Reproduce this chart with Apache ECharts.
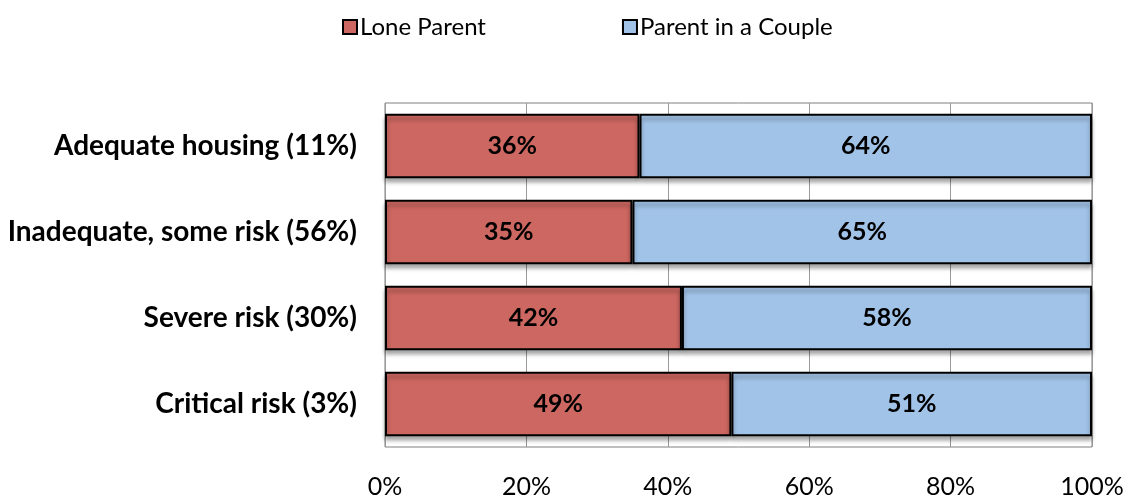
<!DOCTYPE html>
<html>
<head>
<meta charset="utf-8">
<script src="https://cdn.jsdelivr.net/npm/echarts@6/dist/echarts.min.js"></script>
<style>
  html, body { margin: 0; padding: 0; background: #fff; }
  #chart { width: 1130px; height: 500px; }
</style>
</head>
<body>
<div id="chart"></div>
<script>
const categories = ['Adequate housing (11%)', 'Inadequate, some risk (56%)', 'Severe risk (30%)', 'Critical risk (3%)']
const loneParent = [36, 35, 42, 49]
const coupleParent = [64, 65, 58, 51]
const seriesNames = ['Lone Parent', 'Parent in a Couple']

const chart = echarts.init(document.getElementById('chart'))

const barStyle = (color) => ({
  color: color,
  borderColor: '#000',
  borderWidth: 2,
  shadowColor: 'rgba(0,0,0,0.35)',
  shadowBlur: 4,
  shadowOffsetY: 4
})

const labelStyle = {
  show: true,
  position: 'inside',
  formatter: '{c}%',
  color: '#000',
  fontFamily: 'Lato',
  fontWeight: 'bold',
  fontSize: 25
}

chart.setOption({
  textStyle: { fontFamily: 'Lato' },
  legend: {
    left: 337,
    top: 10,
    itemWidth: 14,
    itemHeight: 14,
    itemGap: 136,
    icon: 'rect',
    textStyle: { fontSize: 24, color: '#000', fontFamily: 'Lato', padding: [0, 0, 0, -2] },
    itemStyle: { borderColor: '#000', borderWidth: 2 },
    data: seriesNames
  },
  grid: {
    left: 385,
    right: 38,
    top: 103,
    bottom: 53,
    show: true,
    borderColor: '#808080',
    borderWidth: 1
  },
  xAxis: {
    type: 'value',
    min: 0,
    max: 100,
    interval: 20,
    axisLine: { show: false },
    axisTick: { show: false },
    splitLine: { show: true, lineStyle: { color: '#9a9a9a', width: 1 } },
    axisLabel: {
      formatter: '{value}%',
      color: '#000',
      fontSize: 25,
      fontFamily: 'Lato',
      margin: 27
    }
  },
  yAxis: {
    type: 'category',
    inverse: true,
    data: categories,
    axisLine: { show: false },
    axisTick: { show: false },
    axisLabel: {
      color: '#000',
      fontSize: 28,
      fontWeight: 'bold',
      fontFamily: 'Lato',
      margin: 28
    }
  },
  series: [
    {
      name: seriesNames[0],
      type: 'bar',
      stack: 'total',
      barCategoryGap: '25%',
      data: loneParent,
      itemStyle: barStyle('#CD6761'),
      label: labelStyle
    },
    {
      name: seriesNames[1],
      type: 'bar',
      stack: 'total',
      barCategoryGap: '25%',
      data: coupleParent,
      itemStyle: barStyle('#A2C3E8'),
      label: labelStyle
    }
  ]
})
</script>
</body>
</html>
